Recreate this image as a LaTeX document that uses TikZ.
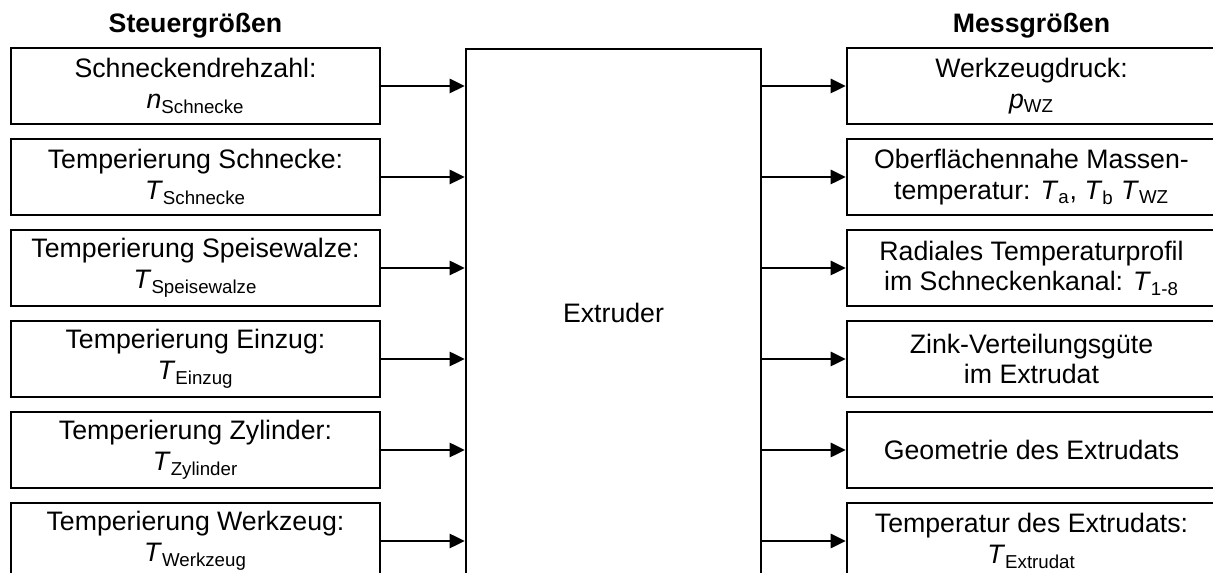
\documentclass[tikz,border=0pt]{standalone}
\usepackage{fontspec}
\setmainfont{Liberation Sans}
\usetikzlibrary{arrows.meta}
\newcommand{\groesse}[2]{\textit{#1}\textsubscript{#2}}
\tikzset{
  feld/.style={draw,line width=1.5pt,minimum width=7.38cm,minimum height=1.52cm,
    align=center,inner sep=0pt},
  pfeil/.style={-{Triangle[length=0.3cm,width=0.28cm]},line width=1.5pt},
  titel/.style={anchor=base,font=\fontsize{15.2}{17.5}\selectfont\bfseries},
}
\begin{document}
\begin{tikzpicture}[x=0.02cm,y=-0.02cm,font=\fontsize{15.2}{17.5}\selectfont]
  \useasboundingbox (0,0) rectangle (1213,573);
  \clip (0,0) rectangle (1213,573);

  % Extruder
  \node[draw,line width=1.5pt,minimum width=5.9cm,minimum height=10.56cm] (ext) at (613.5,313) {Extruder};

  % Steuergrößen
  \node[titel] (st) at (195.5,33) {Steuergrößen};
  \node[feld] (s1) at (195.5,86) {Schneckendrehzahl:\\\groesse{n}{Schnecke}};
  \node[feld] (s2) at (195.5,177) {Temperierung Schnecke:\\\groesse{T}{Schnecke}};
  \node[feld] (s3) at (195.5,268) {Temperierung Speisewalze:\\\groesse{T}{Speisewalze}};
  \node[feld] (s4) at (195.5,359) {Temperierung Einzug:\\\groesse{T}{Einzug}};
  \node[feld] (s5) at (195.5,450) {Temperierung Zylinder:\\\groesse{T}{Zylinder}};
  \node[feld] (s6) at (195.5,541) {Temperierung Werkzeug:\\\groesse{T}{Werkzeug}};

  % Messgrößen
  \node[titel] (mt) at (1031.5,33) {Messgrößen};
  \node[feld] (m1) at (1031.5,86) {Werkzeugdruck:\\\groesse{p}{WZ}};
  \node[feld] (m2) at (1031.5,177) {Oberflächennahe Massen-\\temperatur: \groesse{T}{a}, \groesse{T}{b} \groesse{T}{WZ}};
  \node[feld] (m3) at (1031.5,268) {Radiales Temperaturprofil\\im Schneckenkanal: \groesse{T}{1-8}};
  \node[feld] (m4) at (1031.5,359) {Zink-Verteilungsgüte\\im Extrudat};
  \node[feld] (m5) at (1031.5,450) {Geometrie des Extrudats};
  \node[feld] (m6) at (1031.5,541) {Temperatur des Extrudats:\\\groesse{T}{Extrudat}};

  % Eingänge
  \draw[pfeil] (s1.east) -- (s1 -| ext.west);
  \draw[pfeil] (s2.east) -- (s2 -| ext.west);
  \draw[pfeil] (s3.east) -- (s3 -| ext.west);
  \draw[pfeil] (s4.east) -- (s4 -| ext.west);
  \draw[pfeil] (s5.east) -- (s5 -| ext.west);
  \draw[pfeil] (s6.east) -- (s6 -| ext.west);

  % Ausgänge
  \draw[pfeil] (m1 -| ext.east) -- (m1.west);
  \draw[pfeil] (m2 -| ext.east) -- (m2.west);
  \draw[pfeil] (m3 -| ext.east) -- (m3.west);
  \draw[pfeil] (m4 -| ext.east) -- (m4.west);
  \draw[pfeil] (m5 -| ext.east) -- (m5.west);
  \draw[pfeil] (m6 -| ext.east) -- (m6.west);
\end{tikzpicture}
\end{document}
